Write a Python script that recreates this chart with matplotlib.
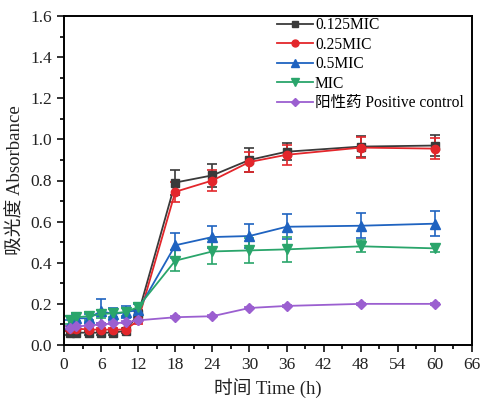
import matplotlib
matplotlib.use("Agg")
import matplotlib.pyplot as plt
from matplotlib.ticker import MultipleLocator
from matplotlib.lines import Line2D

plt.rcParams['font.family'] = ['Liberation Serif', 'Noto Sans CJK SC']

time = [1, 2, 4, 6, 8, 10, 12, 18, 24, 30, 36, 48, 60]
labels = ['0.125MIC', '0.25MIC', '0.5MIC', 'MIC', '阳性药 Positive control']
v_0125 = [0.06, 0.06, 0.06, 0.06, 0.06, 0.07, 0.15, 0.79, 0.825, 0.90, 0.94, 0.965, 0.97]
e_0125 = [0.01, 0.01, 0.01, 0.01, 0.01, 0.01, 0.02, 0.06, 0.055, 0.06, 0.04, 0.05, 0.05]
v_025 = [0.08, 0.08, 0.075, 0.075, 0.075, 0.075, 0.12, 0.745, 0.80, 0.89, 0.925, 0.96, 0.955]
e_025 = [0.01, 0.01, 0.01, 0.01, 0.01, 0.01, 0.02, 0.05, 0.05, 0.05, 0.05, 0.05, 0.05]
v_05 = [0.10, 0.13, 0.13, 0.165, 0.15, 0.16, 0.17, 0.485, 0.525, 0.53, 0.575, 0.58, 0.59]
e_05 = [0.02, 0.02, 0.02, 0.06, 0.03, 0.03, 0.03, 0.06, 0.055, 0.06, 0.06, 0.06, 0.06]
v_mic = [0.12, 0.135, 0.14, 0.15, 0.155, 0.16, 0.185, 0.41, 0.455, 0.46, 0.465, 0.48, 0.47]
e_mic = [0.02, 0.02, 0.02, 0.02, 0.02, 0.02, 0.02, 0.05, 0.06, 0.06, 0.06, 0.03, 0.02]
v_pos = [0.085, 0.09, 0.095, 0.10, 0.105, 0.11, 0.12, 0.135, 0.14, 0.18, 0.19, 0.20, 0.20]
e_pos = [0.005] * 13

series = [v_0125, v_025, v_05, v_mic, v_pos]
errors = [e_0125, e_025, e_05, e_mic, e_pos]
colors = ['#3a3a3a', '#e3262b', '#1f63c0', '#2aa56b', '#9b5fd0']
markers = ['s', 'o', '^', 'v', 'D']
msizes = [5.5, 6, 6.5, 6.5, 5.5]

fig = plt.figure(figsize=(4.82, 4.01), dpi=100)
ax = fig.add_axes([64/482, 1 - 345/401, (472-64)/482, (345-16)/401])

handles = []
for v, e, c, m, ms, lab in zip(series, errors, colors, markers, msizes, labels):
    ax.errorbar(time, v, yerr=e, color=c, marker=m, markersize=ms, lw=1.3,
                capsize=3.5, elinewidth=1.2, capthick=1.2)
    handles.append(Line2D([], [], color=c, marker=m, markersize=ms - 1, lw=1.3, label=lab))

ax.set_xlim(0, 66)
ax.set_ylim(0, 1.6)
ax.xaxis.set_major_locator(MultipleLocator(6))
ax.xaxis.set_minor_locator(MultipleLocator(3))
ax.yaxis.set_major_locator(MultipleLocator(0.2))
ax.yaxis.set_minor_locator(MultipleLocator(0.1))
ax.yaxis.set_major_formatter(plt.FuncFormatter(lambda v, p: f"{v:.1f}"))
ax.tick_params(which='major', direction='out', length=5, width=1.3, labelsize=12.5, colors='#222222')
ax.tick_params(which='minor', direction='out', length=3, width=1.2)
for s in ax.spines.values():
    s.set_linewidth(1.4)

ax.set_xlabel('时间 Time (h)', fontsize=13.5, color='#222222')
ax.set_ylabel('吸光度 Absorbance', fontsize=13.5, color='#222222')

ax.legend(handles=handles, loc='upper right', bbox_to_anchor=(0.995, 1.015), frameon=False,
          fontsize=11.2, handlelength=2.3, handletextpad=0.15,
          labelspacing=0.22, borderaxespad=0.0)

fig.savefig('out.png', dpi=100)
